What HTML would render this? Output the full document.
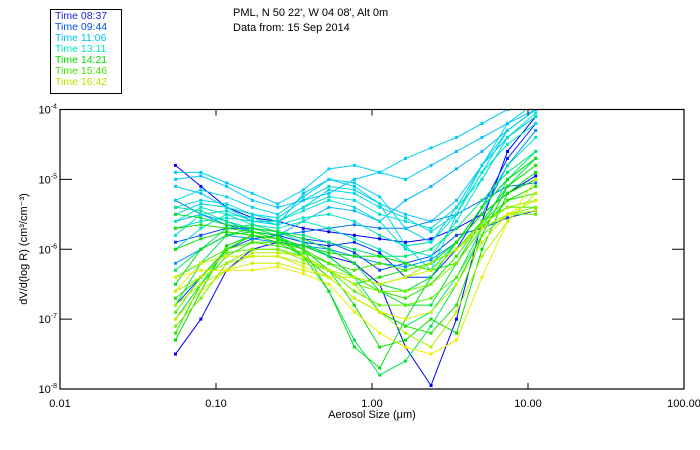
<!DOCTYPE html>
<html><head><meta charset="utf-8"><style>
body{margin:0;background:#fff;}
svg{display:block;font-family:"Liberation Sans",sans-serif;}
</style></head><body>
<svg id="chart" width="700" height="450" viewBox="0 0 700 450">
<defs><clipPath id="plotclip"><rect x="60" y="109.5" width="624" height="279.5"/></clipPath></defs>
<g>
<rect x="50.5" y="9.5" width="71" height="84" fill="#fff" stroke="#000"/>
<text x="55" y="19" font-size="10.5" fill="#2020e0">Time 08:37</text>
<text x="55" y="30" font-size="10.5" fill="#0050f0">Time 09:44</text>
<text x="55" y="41" font-size="10.5" fill="#00c0f0">Time 11:06</text>
<text x="55" y="52" font-size="10.5" fill="#00e8c0">Time 13:11</text>
<text x="55" y="63" font-size="10.5" fill="#00e000">Time 14:21</text>
<text x="55" y="74" font-size="10.5" fill="#40e000">Time 15:46</text>
<text x="55" y="85" font-size="10.5" fill="#c0e000">Time 16:42</text>
</g>
<text x="233" y="16" font-size="11" fill="#000">PML, N 50 22', W 04 08', Alt 0m</text>
<text x="233" y="31" font-size="11" fill="#000">Data from: 15 Sep 2014</text>
<g id="series" clip-path="url(#plotclip)"></g>
<g id="axes"></g>
<text x="372" y="418" font-size="11" text-anchor="middle">Aerosol Size (μm)</text>
<text transform="translate(27,249) rotate(-90)" font-size="11" text-anchor="middle">dV/d(log R) (cm³/cm⁻³)</text>
</svg>
<script>
const sizes = [0.055,0.080,0.117,0.171,0.249,0.363,0.529,0.771,1.12,1.64,2.39,3.48,5.07,7.39,11.2];
const xTicks = [0.01,0.1,1,10,100];
const xTickLabels = ["0.01","0.10","1.00","10.00","100.00"];
const yTickExps = [-4,-5,-6,-7,-8];
const seriesT = [0,0,0.08,0.12,0.2,0.25,0.3,0.33,0.36,0.38,0.4,0.42,0.44,0.46,0.48,0.5,0.55,0.57,0.6,0.62,0.63,0.65,0.67,0.68,0.7,0.72,0.75,0.78,0.82,0.86,0.9,0.94,0.96,1.0,0.98,0.33];
const s1=[-4.80,-5.10,-5.40,-5.55,-5.60,-5.70,-5.75,-5.80,-5.85,-5.90,-5.85,-5.70,-5.50,-5.20,-4.95];
const s2=[-7.50,-7.00,-6.30,-6.00,-5.90,-5.95,-6.10,-6.20,-6.50,-7.40,-7.95,-7.00,-5.60,-4.60,-4.10];
const s3=[-6.80,-6.40,-6.00,-5.85,-5.80,-5.90,-5.95,-5.90,-6.05,-6.40,-6.40,-6.00,-5.40,-4.70,-4.20];
const s4=[-5.90,-5.80,-5.70,-5.70,-5.75,-5.85,-5.90,-6.05,-6.30,-6.20,-6.10,-5.80,-5.70,-5.55,-5.45];
const s5=[-5.30,-5.50,-5.65,-5.75,-5.80,-5.75,-5.70,-5.65,-5.70,-5.70,-5.60,-5.50,-5.30,-5.10,-5.05];
const s6=[-6.20,-6.00,-5.80,-5.85,-5.90,-5.95,-6.00,-6.10,-6.20,-6.25,-6.15,-5.90,-5.50,-4.80,-4.30];
const s7=[-5.60,-5.50,-5.60,-5.75,-5.80,-5.60,-5.40,-5.45,-5.60,-5.30,-5.10,-4.85,-4.60,-4.30,-4.00];
const s8=[-5.10,-5.20,-5.40,-5.60,-5.65,-5.20,-5.00,-5.10,-5.35,-5.50,-5.60,-5.30,-4.80,-4.40,-4.10];
const s9=[-4.90,-4.90,-5.05,-5.20,-5.35,-5.15,-4.85,-4.80,-4.90,-4.70,-4.55,-4.40,-4.20,-4.00,-3.90];
const s10=[-5.30,-5.15,-5.25,-5.40,-5.50,-5.25,-5.00,-5.05,-5.25,-5.70,-5.90,-5.40,-4.80,-4.20,-3.90];
const s11=[-5.50,-5.35,-5.40,-5.50,-5.60,-5.40,-5.15,-5.20,-5.40,-5.55,-5.75,-5.50,-4.90,-4.30,-4.00];
const s12=[-5.40,-5.30,-5.35,-5.50,-5.55,-5.30,-5.10,-5.15,-5.35,-5.95,-6.30,-5.50,-4.80,-4.30,-4.00];
const s13=[-5.70,-5.60,-5.55,-5.60,-5.60,-5.40,-5.25,-5.30,-5.50,-5.60,-5.70,-5.40,-5.00,-4.40,-4.10];
const s14=[-5.80,-5.50,-5.45,-5.60,-5.60,-5.45,-5.30,-5.40,-5.60,-6.00,-6.10,-5.60,-5.00,-4.40,-4.05];
const s15=[-6.00,-5.70,-5.50,-5.55,-5.65,-5.55,-5.50,-5.60,-5.80,-5.95,-5.90,-5.50,-4.90,-4.50,-4.20];
const s16=[-5.60,-5.40,-5.50,-5.65,-5.70,-5.60,-5.70,-5.85,-6.00,-6.20,-6.30,-5.90,-5.40,-4.80,-4.40];
const s17=[-5.40,-5.45,-5.60,-5.70,-5.75,-5.90,-6.10,-6.40,-6.90,-7.10,-6.90,-6.40,-5.70,-5.00,-4.60];
const s18=[-6.30,-6.00,-5.70,-5.65,-5.75,-5.80,-5.90,-6.00,-6.10,-6.10,-6.00,-5.70,-5.30,-4.90,-4.60];
const s19=[-6.80,-6.20,-5.80,-5.70,-5.80,-6.00,-6.60,-7.30,-7.80,-7.60,-7.10,-6.50,-5.80,-5.10,-4.70];
const s20=[-7.00,-6.50,-6.00,-5.80,-5.85,-5.95,-6.10,-6.40,-6.50,-6.60,-6.40,-5.90,-5.40,-5.00,-4.70];
const s21=[-5.50,-5.55,-5.65,-5.70,-5.75,-5.85,-6.00,-6.20,-6.60,-6.80,-6.80,-6.20,-5.60,-5.10,-4.80];
const s22=[-6.50,-6.00,-5.80,-5.75,-5.80,-6.10,-6.60,-7.40,-7.70,-7.00,-6.40,-5.90,-5.40,-5.00,-4.70];
const s23=[-7.30,-6.60,-5.95,-5.80,-5.85,-6.00,-6.30,-6.80,-7.40,-7.30,-7.00,-7.20,-6.00,-5.20,-4.90];
const s24=[-6.00,-5.85,-5.75,-5.80,-5.90,-6.10,-6.30,-6.50,-6.40,-6.30,-6.20,-5.90,-5.50,-5.20,-5.00];
const s25=[-5.70,-5.65,-5.70,-5.75,-5.85,-5.95,-6.05,-6.10,-6.10,-6.20,-6.30,-6.20,-5.70,-5.30,-5.10];
const s26=[-6.70,-6.40,-6.00,-5.80,-5.85,-6.10,-6.40,-6.70,-6.90,-7.10,-7.20,-6.80,-5.80,-5.10,-4.80];
const s27=[-7.20,-6.50,-6.10,-5.90,-5.90,-6.00,-6.20,-6.40,-6.60,-6.70,-6.50,-6.10,-5.60,-5.30,-5.20];
const s28=[-6.40,-6.20,-6.00,-5.90,-5.95,-6.05,-6.20,-6.30,-6.20,-6.30,-6.20,-6.00,-5.60,-5.40,-5.40];
const s29=[-6.90,-6.40,-6.05,-6.00,-6.00,-6.10,-6.30,-6.60,-6.80,-6.80,-6.70,-6.40,-5.80,-5.50,-5.50];
const s30=[-7.10,-6.70,-6.20,-6.00,-6.00,-6.15,-6.30,-6.50,-6.60,-6.60,-6.50,-6.20,-5.70,-5.50,-5.40];
const s31=[-6.60,-6.40,-6.20,-6.10,-6.10,-6.20,-6.30,-6.40,-6.50,-6.40,-6.20,-6.00,-5.65,-5.40,-5.30];
const s32=[-6.80,-6.50,-6.30,-6.05,-6.05,-6.10,-6.30,-6.50,-6.90,-7.20,-7.40,-6.90,-6.10,-5.60,-5.20];
const s33=[-7.00,-6.60,-6.30,-6.20,-6.20,-6.30,-6.40,-6.40,-6.50,-6.40,-6.30,-6.00,-5.70,-5.50,-5.45];
const s34=[-6.40,-6.30,-6.30,-6.30,-6.25,-6.35,-6.50,-6.90,-7.20,-7.40,-7.50,-7.30,-6.40,-5.60,-5.00];
const s35=[-6.60,-6.20,-6.10,-6.10,-6.10,-6.25,-6.40,-6.70,-6.90,-7.00,-6.90,-6.50,-5.90,-5.50,-5.30];
const s36=[-5.00,-4.95,-5.10,-5.30,-5.40,-5.30,-5.20,-5.00,-4.90,-5.00,-4.80,-4.60,-4.40,-4.20,-4.00];
const seriesLog=[s1,s2,s3,s4,s5,s6,s7,s8,s9,s10,s11,s12,s13,s14,s15,s16,s17,s18,s19,s20,s21,s22,s23,s24,s25,s26,s27,s28,s29,s30,s31,s32,s33,s34,s35,s36];

const NS="http://www.w3.org/2000/svg";
const X0=60,X1=684,Y0=109.5,Y1=389;
function xScale(v){return X0+(Math.log10(v)+2)/4*(X1-X0);}
function yScale(e){return Y0+(-4-e)/4*(Y1-Y0);}
const stops=[[0,[0,0,255]],[0.17,[0,96,255]],[0.33,[0,200,255]],[0.5,[0,232,192]],[0.67,[0,224,0]],[0.83,[96,240,0]],[1,[232,240,0]]];
function colorAt(t){for(let i=1;i<stops.length;i++){if(t<=stops[i][0]){const a=stops[i-1],b=stops[i];const f=(t-a[0])/(b[0]-a[0]);const c=a[1].map((v,k)=>Math.round(v+(b[1][k]-v)*f));return "rgb("+c.join(",")+")";}}return "rgb(232,240,0)";}
const sg=document.getElementById("series");
seriesLog.forEach((vals,si)=>{
  const col=colorAt(seriesT[si]);
  const g=document.createElementNS(NS,"g");
  
  
  const pts=vals.map((e,i)=>xScale(sizes[i]).toFixed(1)+","+yScale(e).toFixed(1)).join(" ");
  const pl=document.createElementNS(NS,"polyline");
  pl.setAttribute("points",pts);pl.setAttribute("fill","none");pl.setAttribute("stroke",col);pl.setAttribute("stroke-width","1");
  
  
  g.appendChild(pl);
  vals.forEach((e,i)=>{
    const r=document.createElementNS(NS,"rect");
    r.setAttribute("x",xScale(sizes[i])-1.5);r.setAttribute("y",yScale(e)-1.5);r.setAttribute("width",3);r.setAttribute("height",3);r.setAttribute("fill",col);
    
    
    g.appendChild(r);
  });
  sg.appendChild(g);
});
const ax=document.getElementById("axes");
function mk(tag,attrs){const e=document.createElementNS(NS,tag);for(const k in attrs)e.setAttribute(k,attrs[k]);ax.appendChild(e);return e;}
const frame=mk("rect",{x:X0,y:Y0,width:X1-X0,height:Y1-Y0,fill:"none",stroke:"#000","stroke-width":1.2});


xTicks.forEach((v,i)=>{
  const x=xScale(v);
  const t1=mk("line",{x1:x,y1:Y1,x2:x,y2:Y1-6,stroke:"#000"});
  
  
  const t2=mk("line",{x1:x,y1:Y0,x2:x,y2:Y0+6,stroke:"#000"});
  
  
  const l=mk("text",{x:x,y:Y1+18,"font-size":11,"text-anchor":"middle"});
  l.textContent=xTickLabels[i];
  
  
});
yTickExps.forEach(e=>{
  const y=yScale(e);
  const t1=mk("line",{x1:X0,y1:y,x2:X0+12,y2:y,stroke:"#000"});
  
  
  const t2=mk("line",{x1:X1,y1:y,x2:X1-12,y2:y,stroke:"#000"});
  
  
  const l=mk("text",{x:X0-3,y:y+4,"font-size":11,"text-anchor":"end"});
  
  
  l.innerHTML='10<tspan dy="-5" font-size="7">'+e+'</tspan>';
});
</script>
</body></html>
